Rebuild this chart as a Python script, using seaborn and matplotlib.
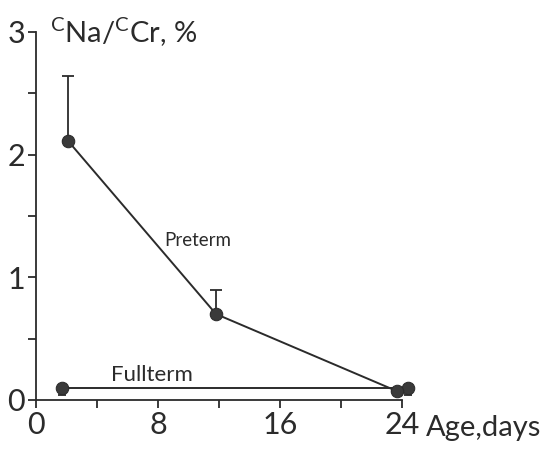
import matplotlib
matplotlib.use("Agg")
import matplotlib.pyplot as plt
from matplotlib.ticker import MultipleLocator
import seaborn as sns
import pandas as pd

# Sodium / creatinine clearance ratio by postnatal age
preterm_age = [2.1, 11.8, 23.7]
preterm_ratio = [2.11, 0.70, 0.07]
preterm_err = [0.53, 0.20, 0.0]

fullterm_age = [1.7, 24.4]
fullterm_ratio = [0.10, 0.10]
fullterm_err = [0.06, 0.06]

x_ticks = [0, 8, 16, 24]
y_ticks = [0, 1, 2, 3]

sns.set_theme(style="ticks")
ink = "#2b2b2b"
plt.rcParams["font.family"] = ["Lato", "DejaVu Sans"]
plt.rcParams["font.weight"] = "normal"

fig = plt.figure(figsize=(5.56, 4.55), dpi=100)
ax = fig.add_axes([0.065, 0.121, 0.658, 0.809])

pre = pd.DataFrame({"age": preterm_age, "ratio": preterm_ratio})
full = pd.DataFrame({"age": fullterm_age, "ratio": fullterm_ratio})

# upward error bars for preterm, downward for fullterm
ax.errorbar(preterm_age, preterm_ratio, yerr=[[0] * 3, preterm_err], fmt="none",
            ecolor=ink, elinewidth=1.3, capsize=4, capthick=1.3, clip_on=False)
ax.errorbar(fullterm_age, fullterm_ratio, yerr=[fullterm_err, [0, 0]], fmt="none",
            ecolor=ink, elinewidth=1.3, capsize=3, capthick=1.3, clip_on=False)

for df in (full, pre):
    sns.lineplot(data=df, x="age", y="ratio", ax=ax, color=ink, linewidth=1.4,
                 marker="o", markersize=9, markeredgecolor=ink,
                 markerfacecolor="#3a3a3a", clip_on=False)

ax.set_xlim(0, 24)
ax.set_ylim(0, 3)
ax.set_xticks(x_ticks)
ax.set_yticks(y_ticks)
ax.xaxis.set_minor_locator(MultipleLocator(4))
ax.yaxis.set_minor_locator(MultipleLocator(0.5))
ax.tick_params(which="both", direction="out", color=ink, width=1.3)
ax.tick_params(which="major", length=6, labelsize=22, labelcolor=ink, pad=2)
ax.tick_params(which="minor", length=6)
ax.set_xlabel("")
ax.set_ylabel("")
for side in ("top", "right"):
    ax.spines[side].set_visible(False)
for side in ("left", "bottom"):
    ax.spines[side].set_color(ink)
    ax.spines[side].set_linewidth(1.3)

ax.text(10.6, 1.30, "Preterm", fontsize=13.5, color=ink, ha="center", va="center")
ax.text(7.6, 0.20, "Fullterm", fontsize=16, color=ink, ha="center", va="center")
ax.text(25.6, -0.225, "Age,days", fontsize=21, color=ink, ha="left", va="center",
        clip_on=False)
ax.text(0.9, 3.0, r"$^{\mathregular{C}}$Na/$^{\mathregular{C}}$Cr, %", fontsize=21,
        color=ink, ha="left", va="center", clip_on=False)

fig.savefig("out.png", dpi=100)
